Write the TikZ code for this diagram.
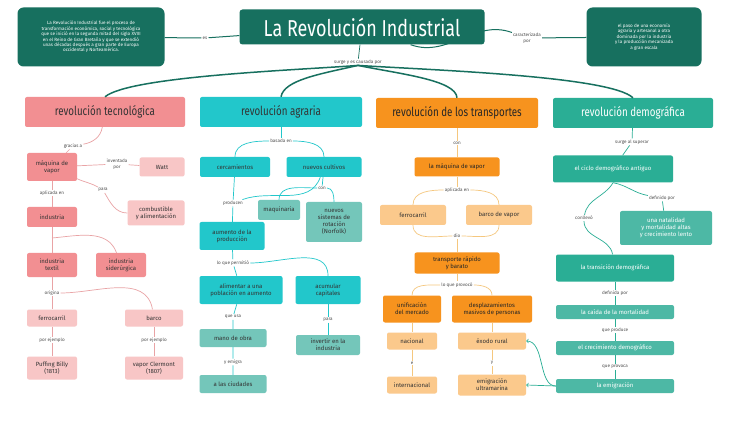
\documentclass[tikz,border=0pt]{standalone}
\usepackage{fontspec}
\usepackage{xcolor}
\setmainfont{Fira Sans}
\newfontfamily\condfont[FakeStretch=0.78]{Fira Sans}
\usetikzlibrary{arrows}

\definecolor{verdeosc}{HTML}{17705F}
\definecolor{rosa}{HTML}{F28F92}
\definecolor{rosaclaro}{HTML}{F8C6C6}
\definecolor{rosalinea}{HTML}{E9A3A5}
\definecolor{cian}{HTML}{22C7CB}
\definecolor{cianmate}{HTML}{74C6BA}
\definecolor{naranja}{HTML}{F7931E}
\definecolor{naranjaclaro}{HTML}{FBC98C}
\definecolor{naranjalinea}{HTML}{F5C77E}
\definecolor{turq}{HTML}{2AAE95}
\definecolor{turqclaro}{HTML}{4DB8A5}

\newcommand\ftxt{\fontsize{6}{6.8}\selectfont}
\newcommand\flbl{\fontsize{4.6}{5.4}\selectfont}
\newcommand\fhead{\condfont\fontsize{12.5}{13}\selectfont}
\newcommand\ftitulo{\condfont\fontsize{23}{24}\selectfont}

\begin{document}
\begin{tikzpicture}[x=1pt,y=-1pt,
  bx/.style 2 args={minimum width=#1,minimum height=#2},
  caja/.style={rounded corners=2pt,inner sep=1pt,align=center,font=\ftxt},
  lbl/.style={inner sep=1pt,align=center,font=\flbl,text=black!70,fill=white},
  info/.style={caja,fill=verdeosc,text=white,rounded corners=6pt,font=\flbl},
  titulo/.style={caja,fill=verdeosc,text=white,rounded corners=3pt,font=\ftitulo},
  cabeza/.style={font=\fhead,minimum height=30},
  pk/.style={caja,fill=rosa,text=black!80},
  pkl/.style={caja,fill=rosaclaro,text=black!80},
  cy/.style={caja,fill=cian,text=black!80},
  cym/.style={caja,fill=cianmate,text=black!80},
  nar/.style={caja,fill=naranja,text=black!85},
  narl/.style={caja,fill=naranjaclaro,text=black!80},
  tl/.style={caja,fill=turq,text=white},
  tll/.style={caja,fill=turqclaro,text=white},
  rama/.style={verdeosc,line width=1.5pt},
  rosln/.style={rosalinea,line width=0.7pt},
  cianln/.style={cian,line width=0.7pt},
  narln/.style={naranjalinea,line width=0.7pt},
  turqln/.style={turq,line width=0.7pt}]
\useasboundingbox[fill=white] (0,0) rectangle (747,422);

\node[info,bx={147}{59}] (def) at (91,37) {La Revolución Industrial fue el proceso de\\transformación económica, social y tecnológica\\que se inició en la segunda mitad del siglo XVIII\\en el Reino de Gran Bretaña y que se extendió\\unas décadas después a gran parte de Europa\\occidental y Norteamérica.};
\node[lbl] (es) at (205,38) {es};
\node[titulo,bx={245}{35}] (titulo) at (362,27) {La Revolución Industrial};
\node[lbl] (caract) at (527,38) {caracterizada\\por};
\node[info,bx={115}{59}] (resumen) at (644,37) {el paso de una economía\\agraria y artesanal a otra\\dominada por la industria\\y la producción mecanizada\\a gran escala};
\node[lbl] (sub) at (358,62) {surge y es causada por};

\draw[verdeosc,line width=1pt] (def) -- (es) -- (titulo);
\draw[verdeosc,line width=1pt] (titulo) to[out=-20,in=160] (caract);
\draw[verdeosc,line width=1pt] (caract) -- (resumen);
\draw[verdeosc,line width=0.7pt] (titulo) -- (sub);

\node[pk,cabeza,bx={160}{30}] (tecno) at (105,112) {revolución tecnológica};
\node[cy,cabeza,bx={162}{30}] (agraria) at (281,112) {revolución agraria};
\node[nar,cabeza,bx={162}{30}] (transp) at (457,113) {revolución de los transportes};
\node[tl,cabeza,bx={160}{30}] (demog) at (633,113) {revolución demográfica};

\draw[rama] (sub.south) .. controls (300,70) and (130,76) .. (tecno.north);
\draw[rama] (sub.south) .. controls (320,74) and (284,80) .. (agraria.north);
\draw[rama] (sub.south) .. controls (400,74) and (456,80) .. (transp.north);
\draw[rama] (sub.south) .. controls (430,70) and (610,76) .. (demog.north);

\node[lbl] (graciasa) at (73,146) {gracias a};
\node[pk,bx={50}{28}] (vapor) at (52,167) {máquina de\\vapor};
\node[lbl] (inventada) at (117,164) {inventada\\por};
\node[pkl,bx={45}{19}] (watt) at (162,167) {Watt};
\node[lbl] (para1) at (103,190) {para};
\node[pkl,bx={57}{25}] (combus) at (156,213) {combustible\\y alimentación};
\node[lbl] (aplicada1) at (52,193) {aplicada en};
\node[pk,bx={50}{20}] (industria) at (52,217) {industria};
\node[pk,bx={50}{24}] (textil) at (52,265) {industria\\textil};
\node[pk,bx={50}{24}] (sider) at (121,265) {industria\\siderúrgica};
\node[lbl] (origina) at (52,293) {origina};
\node[pkl,bx={50}{17}] (ferro) at (52,318) {ferrocarril};
\node[pkl,bx={58}{17}] (barco) at (154,318) {barco};
\node[lbl] (ej1) at (52,340) {por ejemplo};
\node[lbl] (ej2) at (154,340) {por ejemplo};
\node[pkl,bx={50}{23}] (billy) at (52,368) {Puffing Billy\\(1813)};
\node[pkl,bx={58}{23}] (clermont) at (154,368) {vapor Clermont\\(1807)};
\coordinate (ind1) at (52,238);

\draw[rosln] (tecno) to[out=-100,in=10] (graciasa);
\draw[rosln] (graciasa) -- (vapor);
\draw[rosln] (vapor) -- (inventada) -- (watt);
\draw[rosln] (vapor) to[out=-25,in=150] (para1);
\draw[rosln] (para1) to[out=-60,in=180] (combus);
\draw[rosln] (vapor) -- (aplicada1) -- (industria) -- (textil);
\draw[rosln] (ind1) to[out=5,in=110] (sider);
\draw[rosln] (textil) -- (origina) -- (ferro);
\draw[rosln] (origina) to[out=0,in=100] (barco);
\draw[rosln] (ferro) -- (ej1) -- (billy);
\draw[rosln] (barco) -- (ej2) -- (clermont);

\node[lbl] (basada) at (281,141) {basada en};
\node[cy,bx={70}{20}] (cerca) at (235,167) {cercamientos};
\node[cy,bx={75}{20}] (cultivos) at (324,167) {nuevos cultivos};
\node[lbl] (con) at (322,188) {con};
\node[cym,bx={42}{20}] (maq) at (279,210) {maquinaria};
\node[cym,bx={56}{40}] (rotacion) at (334,222) {nuevos\\sistemas de\\rotación\\(Norfolk)};
\node[lbl] (producen) at (233,203) {producen};
\node[cy,bx={65}{28}] (produccion) at (232,236) {aumento de la\\producción};
\node[lbl] (permitio) at (233,263) {lo que permitió};
\node[cy,bx={83}{28}] (alimentar) at (241,290) {alimentar a una\\población en aumento};
\node[cy,bx={65}{28}] (capital) at (328,290) {acumular\\capitales};
\node[lbl] (usa) at (233,317) {que usa};
\node[cym,bx={67}{18}] (obra) at (233,338) {mano de obra};
\node[lbl] (emigra) at (233,362) {y emigra};
\node[cym,bx={67}{18}] (ciudades) at (233,384) {a las ciudades};
\node[lbl] (para2) at (328,320) {para};
\node[cym,bx={64}{20}] (inversion) at (328,345) {invertir en la\\industria};

\draw[cianln] (agraria) -- (basada);
\draw[cianln] (basada) to[out=180,in=90] (cerca);
\draw[cianln] (basada) to[out=0,in=90] (cultivos);
\draw[cianln] (cultivos) -- (con);
\draw[cianln] (con) to[out=180,in=90] (maq);
\draw[cianln] (con) to[out=0,in=90] (rotacion);
\draw[cianln] (cerca) -- (producen) -- (produccion);
\draw[cianln] (cultivos) to[out=-110,in=20] (producen);
\draw[cianln] (produccion) -- (permitio) -- (alimentar);
\draw[cianln] (permitio) to[out=0,in=90] (capital);
\draw[cianln] (alimentar) -- (usa) -- (obra) -- (emigra) -- (ciudades);
\draw[cianln] (capital) -- (para2) -- (inversion);

\node[lbl] (con3) at (457,143) {con};
\node[nar,bx={85}{19}] (maqv) at (457,167) {la máquina de vapor};
\node[lbl] (aplic3) at (457,190) {aplicada en};
\node[narl,bx={66}{20}] (ferro3) at (413,215) {ferrocarril};
\node[narl,bx={66}{20}] (barco3) at (499,215) {barco de vapor};
\node[lbl] (dio) at (457,236) {dio};
\node[nar,bx={85}{21}] (rapido) at (457,263) {transporte rápido\\y barato};
\node[lbl] (provoco) at (457,285) {lo que provocó};
\node[nar,bx={58}{27}] (unif) at (412,309) {unificación\\del mercado};
\node[nar,bx={80}{27}] (despl) at (492,309) {desplazamientos\\masivos de personas};
\node[narl,bx={50}{17}] (nacional) at (412,341) {nacional};
\node[lbl] (y1) at (412,363) {e};
\node[narl,bx={50}{17}] (internac) at (412,385) {internacional};
\node[narl,bx={68}{17}] (exodo) at (492,341) {éxodo rural};
\node[lbl] (y2) at (492,363) {y};
\node[narl,bx={68}{21}] (ultramar) at (492,385) {emigración\\ultramarina};

\draw[narln] (transp) -- (con3) -- (maqv) -- (aplic3);
\draw[narln] (aplic3) to[out=180,in=90] (ferro3);
\draw[narln] (aplic3) to[out=0,in=90] (barco3);
\draw[narln] (ferro3) to[out=-90,in=180] (dio);
\draw[narln] (barco3) to[out=-90,in=0] (dio);
\draw[narln] (dio) -- (rapido) -- (provoco);
\draw[narln] (provoco) to[out=180,in=90] (unif);
\draw[narln] (provoco) to[out=0,in=90] (despl);
\draw[narln] (unif) -- (nacional) -- (y1) -- (internac);
\draw[narln] (despl) -- (exodo) -- (y2) -- (ultramar);

\node[lbl] (surge) at (632,142) {surge al superar};
\node[tl,bx={120}{27}] (ciclo) at (613,169) {el ciclo demográfico antiguo};
\node[lbl] (definido) at (662,198) {definido por};
\node[tll,bx={92}{34}] (natal) at (666,228) {una natalidad\\y mortalidad altas\\y crecimiento lento};
\node[lbl] (conllevo) at (584,218) {conllevó};
\node[tl,bx={118}{27}] (transicion) at (615,268) {la transición demográfica};
\node[lbl] (def2) at (615,293) {definida por};
\node[tll,bx={118}{14}] (mortal) at (615,312) {la caída de la mortalidad};
\node[lbl] (produce) at (615,330) {que produce};
\node[tll,bx={118}{14}] (crec) at (615,348) {el crecimiento demográfico};
\node[lbl] (provoca) at (615,367) {que provoca};
\node[tll,bx={118}{14}] (emig) at (615,386) {la emigración};

\draw[turqln] (demog) -- (surge) -- (ciclo);
\draw[turqln] (ciclo.south) to[out=-10,in=170] (definido);
\draw[turqln] (definido) -- (natal);
\draw[turqln] (ciclo.south) to[out=-120,in=80] (conllevo);
\draw[turqln] (conllevo) to[out=-90,in=100] (transicion);
\draw[turqln] (transicion) -- (def2) -- (mortal) -- (produce) -- (crec) -- (provoca) -- (emig);
\draw[turqln,->] (emig.west) .. controls (538,386) and (545,341) .. (exodo.east);
\draw[turqln,->] (emig.west) -- (ultramar.east);
\end{tikzpicture}
\end{document}
